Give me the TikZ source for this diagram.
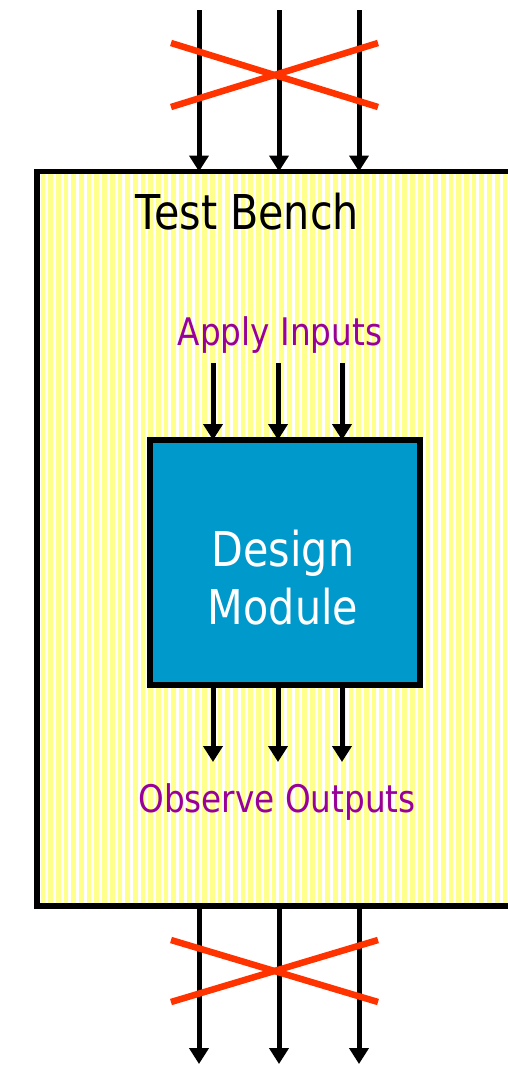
\documentclass[tikz,border=0pt]{standalone}
\usepackage{fontspec}
\setmainfont{DejaVu Sans}[FakeStretch=0.86]
\usetikzlibrary{arrows.meta}
\usetikzlibrary{positioning}

\definecolor{benchyellow}{HTML}{FFFF8C}
\definecolor{dutblue}{HTML}{0099CC}
\definecolor{labelpurple}{HTML}{990099}
\definecolor{crossred}{HTML}{FF3300}

\tikzset{
  benchbox/.style={draw, line width=5.5pt, fill=benchyellow, outer sep=0pt,
    path picture={
      \foreach \i in {0,...,70}
        \draw[white, line width=3pt]
          ([xshift=\i*7.7pt+2pt]path picture bounding box.north west) --
          ([xshift=\i*7.7pt+2pt]path picture bounding box.south west);
    }},
  dutbox/.style={draw, line width=5.5pt, fill=dutblue, outer sep=0pt},
  dutname/.style={anchor=base, text=white, align=center, font=\fontsize{48}{58}\selectfont},
  wire/.style={line width=5pt, -{Triangle[width=19pt,length=16pt]}},
  cross/.style={line width=6.5pt, crossred},
  tag/.style={anchor=base, text=labelpurple, font=\fontsize{38}{38}\selectfont}
}

\begin{document}
\begin{tikzpicture}[x=1pt,y=-1pt]
    \useasboundingbox (0,0) rectangle (508,1066);
    \clip (0,0) rectangle (508,1066);

    \node (bench) [benchbox, anchor=north west, minimum width=490pt, minimum height=734.5pt] at (37,171.5) {};
    \node (title) [anchor=base, font=\fontsize{48}{48}\selectfont] at (247.5,229) {Test Bench};

    \node (dut) [dutbox, minimum width=270pt, minimum height=245pt] at (285,562.5) {};
    \node (dutlabel) [dutname] at (283,624) {Design\\Module};

    \node (inputs) [tag] at (280,345) {Apply Inputs};
    \node (outputs) [tag] at (277,812) {Observe Outputs};

    % lanes outside the bench
    \coordinate (top1) at (199,10);
    \coordinate (top2) at (279,10);
    \coordinate (top3) at (359,10);
    \coordinate (bot1) at (199,1064);
    \coordinate (bot2) at (279,1064);
    \coordinate (bot3) at (359,1064);

    % lanes inside the bench
    \coordinate (in1) at (213,363);
    \coordinate (in2) at (278,363);
    \coordinate (in3) at (342,363);
    \coordinate (out1) at (213,762);
    \coordinate (out2) at (278,762);
    \coordinate (out3) at (342,762);

    \draw [wire] (top1) -- (top1 |- bench.north);
    \draw [wire] (top2) -- (top2 |- bench.north);
    \draw [wire] (top3) -- (top3 |- bench.north);
    \draw [wire] (bench.south -| bot1) -- (bot1);
    \draw [wire] (bench.south -| bot2) -- (bot2);
    \draw [wire] (bench.south -| bot3) -- (bot3);

    \draw [wire] (in1) -- (in1 |- dut.north);
    \draw [wire] (in2) -- (in2 |- dut.north);
    \draw [wire] (in3) -- (in3 |- dut.north);
    \draw [wire] (dut.south -| out1) -- (out1);
    \draw [wire] (dut.south -| out2) -- (out2);
    \draw [wire] (dut.south -| out3) -- (out3);

    % crossed out connections
    \coordinate (ta) at (171,43);
    \coordinate (tb) at (378,107);
    \coordinate (tc) at (171,107);
    \coordinate (td) at (378,43);
    \draw [cross] (ta) -- (tb);
    \draw [cross] (tc) -- (td);

    \coordinate (ba) at (171,940);
    \coordinate (bb) at (378,1002);
    \coordinate (bc) at (171,1002);
    \coordinate (bd) at (378,940);
    \draw [cross] (ba) -- (bb);
    \draw [cross] (bc) -- (bd);
  \end{tikzpicture}
\end{document}
